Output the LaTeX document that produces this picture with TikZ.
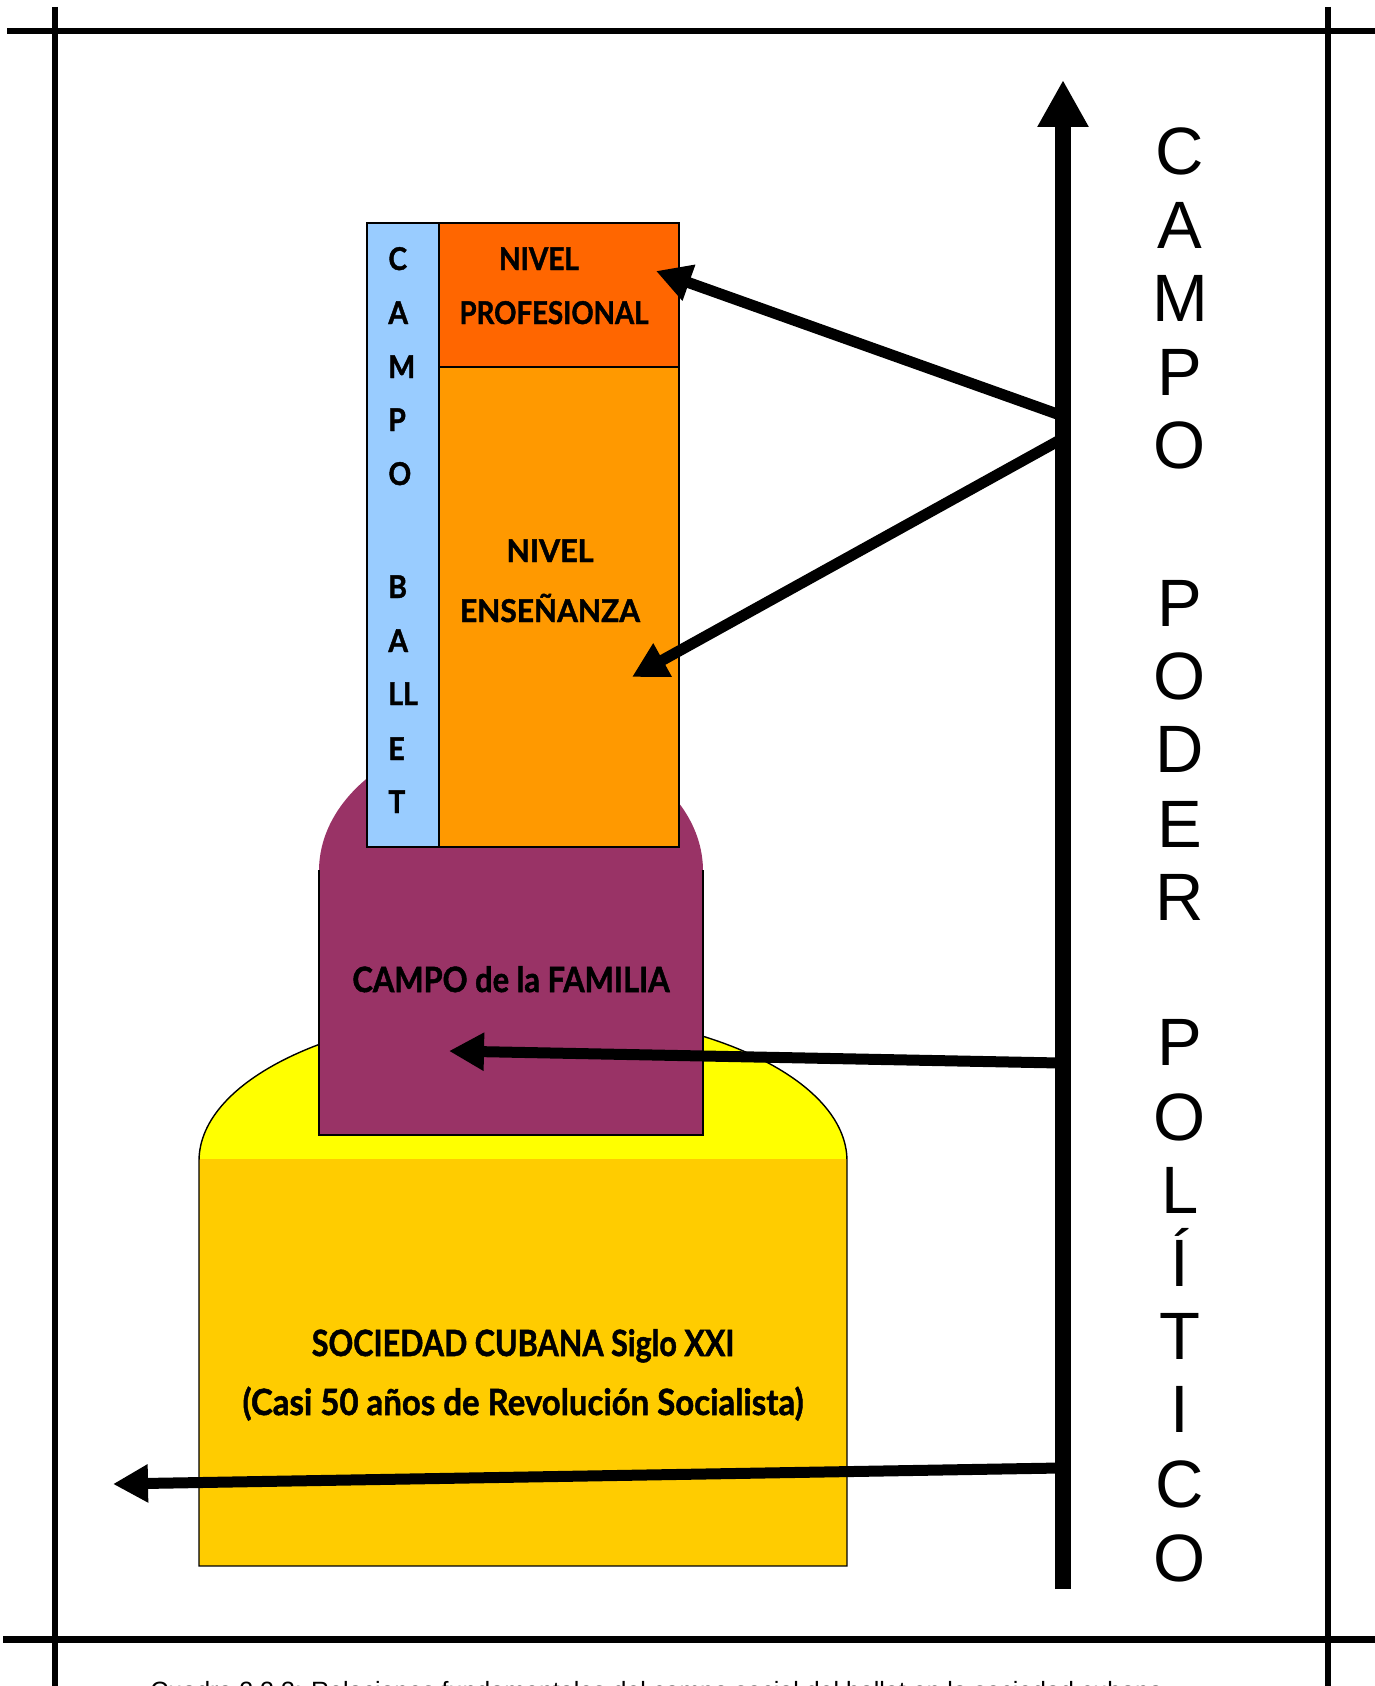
\documentclass[tikz,border=0pt]{standalone}
\usepackage{fontspec}
\usepackage{graphicx}
\setmainfont{Liberation Sans}
\newfontfamily\lbl{Lato}[BoldFeatures={FakeBold=1.4}]
\usetikzlibrary{arrows.meta}

\definecolor{skyblue}{HTML}{99CCFF}
\definecolor{profred}{HTML}{FF6600}
\definecolor{ensorange}{HTML}{FF9900}
\definecolor{famplum}{HTML}{993366}
\definecolor{domeyellow}{HTML}{FFFF00}
\definecolor{basegold}{HTML}{FFCC00}

% horizontally narrowed label text
\newcommand{\narrow}[2]{\scalebox{#1}[1]{#2}}

\begin{document}
\begin{tikzpicture}[x=0.5pt,y=-0.5pt,
  lab/.style={font=\lbl\bfseries\fontsize{15.7}{18}\selectfont, anchor=base, inner sep=0pt},
  midlab/.style={font=\lbl\bfseries\fontsize{17.45}{20}\selectfont, anchor=base, inner sep=0pt},
  biglab/.style={font=\lbl\bfseries\fontsize{18.1}{21}\selectfont, anchor=base, inner sep=0pt},
  colletter/.style={font=\lbl\bfseries\fontsize{15.7}{18}\selectfont, anchor=base west, inner sep=0pt},
  bigletter/.style={font=\fontsize{33.5}{40}\selectfont, anchor=base, inner sep=0pt},
  link/.style={line width=5.5pt, -{Triangle[length=17.5pt,width=18pt]}},
  pole/.style={line width=7.8pt, -{Triangle[length=23.5pt,width=24pt]}},
  rule/.style={line width=3pt},
  outline/.style={draw=black, line width=0.7pt}]
\useasboundingbox (0,0) rectangle (1375,1686);
\fill[white] (0,0) rectangle (1375,1686);

% --- society base: yellow dome on a gold block
\fill[domeyellow] (199,1161) arc[start angle=180,end angle=0,x radius=162pt,y radius=75pt] -- cycle;
\fill[basegold] (199,1159) rectangle (847,1566);
\draw[outline] (199,1566) -- (199,1161) arc[start angle=180,end angle=0,x radius=162pt,y radius=75pt] -- (847,1566) -- cycle;

% --- family field: plum dome and block
\fill[famplum] (319,871) arc[start angle=180,end angle=0,x radius=96pt,y radius=70pt] -- cycle;
\fill[famplum] (319,869) rectangle (703,1135);
\draw[outline] (319,870) -- (319,1135) -- (703,1135) -- (703,870);

% --- ballet field column and levels
\filldraw[fill=skyblue, outline] (367,223) rectangle (439,847);
\filldraw[fill=profred, outline] (439,223) rectangle (679,367);
\filldraw[fill=ensorange, outline] (439,367) rectangle (679,847);

% --- labels
\node[lab] (nivp) at (539,270) {\narrow{0.89}{NIVEL}};
\node[lab] (prof) at (554,324) {\narrow{0.88}{PROFESIONAL}};
\node[lab] (nive) at (550,562) {\narrow{0.97}{NIVEL}};
\node[lab] (ense) at (550,622) {\narrow{0.955}{ENSEÑANZA}};
\node[midlab] (fam) at (511,992) {\narrow{0.885}{CAMPO de la FAMILIA}};
\node[biglab] (soc) at (523,1356) {\narrow{0.845}{SOCIEDAD CUBANA Siglo XXI}};
\node[biglab] (rev) at (523,1415) {\narrow{0.91}{(Casi 50 años de Revolución Socialista)}};

\foreach \ch/\yy [count=\i] in {C/270, A/324, M/378, P/431, O/485, B/598, A/652, LL/705, E/760, T/813}
  \node[colletter] (ballet\i) at (388,\yy) {\narrow{0.9}{\ch}};

\foreach \ch/\yy [count=\i] in {C/174, A/248, M/321, P/395, O/468,
    P/626, O/699, D/772, E/847, R/920,
    P/1065, O/1140, L/1213, Í/1286, T/1359, I/1432, C/1507, O/1581}
  \node[bigletter] (power\i) at (1180,\yy) {\ch};

% --- political power axis and its influences
\coordinate (poleBot) at (1063,1589);
\coordinate (poleTop) at (1063,80);
\coordinate (fromProf) at (1060,415);
\coordinate (fromEns) at (1060,440);
\coordinate (fromFam) at (1060,1063);
\coordinate (fromSoc) at (1060,1468);
\coordinate (toProf) at (656,271);
\coordinate (toEns) at (632,677);
\coordinate (toFam) at (449,1051);
\coordinate (toSoc) at (113,1484);

\draw[link] (fromProf) -- (toProf);
\draw[link] (fromEns) -- (toEns);
\draw[link] (fromFam) -- (toFam);
\draw[link] (fromSoc) -- (toSoc);
\draw[pole] (poleBot) -- (poleTop);

% --- page frame rules
\draw[rule] (7,31) -- (1375,31);
\draw[rule] (55,7) -- (55,1686);
\draw[rule] (1328,7) -- (1328,1686);
\draw[line width=3.5pt] (3,1639) -- (1375,1639);

% --- caption below the frame
\node[anchor=base west, font=\fontsize{12.5}{14}\selectfont, inner sep=0pt] (caption) at (150,1699)
  {Cuadro 2.2.3: Relaciones fundamentales del campo social del ballet en la sociedad cubana};
\end{tikzpicture}
\end{document}
